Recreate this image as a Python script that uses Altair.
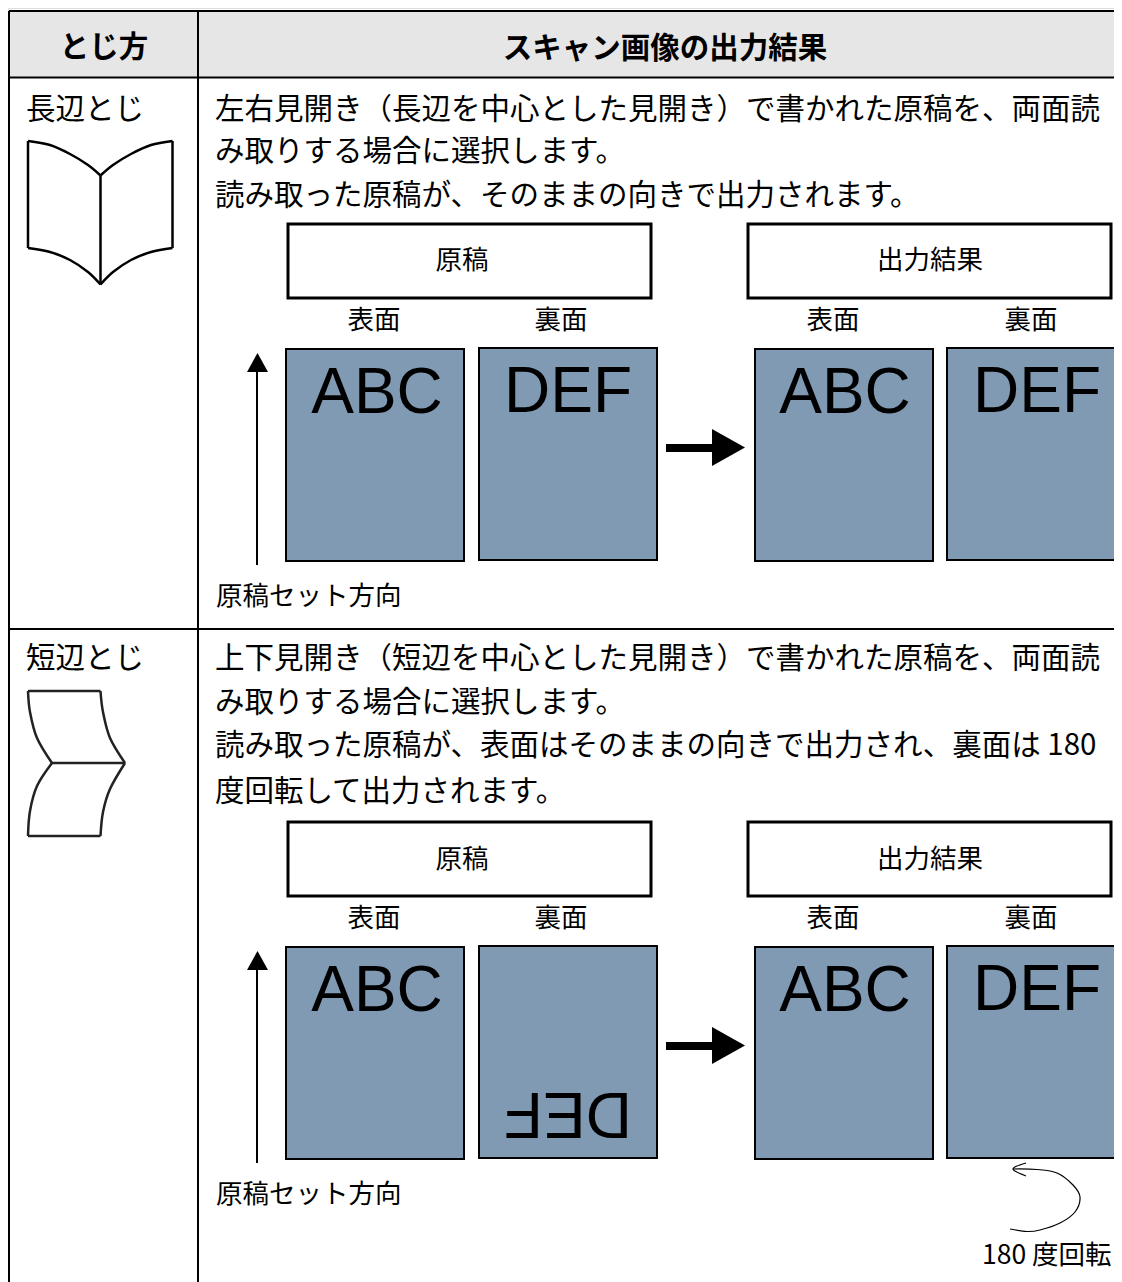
import altair as alt
import pandas as pd

JP = "Noto Sans CJK JP"
LAT = "Liberation Sans"
XD = [8, 1114]
YD = [8, 1282]

# table frame
hdr = [[9, 1122, 11, 77.5]]
rules_x1 = [9, 9, 9, 9, 198]
rules_x2 = [1122, 1122, 1122, 9, 198]
rules_y1 = [11, 77.5, 629, 11, 11]
rules_y2 = [11, 77.5, 629, 1282, 1282]

# white label boxes
box_x1 = [288, 748, 288, 748]
box_x2 = [651, 1111, 651, 1111]
box_y1 = [224, 224, 822, 822]
box_y2 = [298, 298, 896, 896]

# blue pages
pg_x1 = [286, 479, 755, 947, 286, 479, 755, 947]
pg_x2 = [464, 657, 933, 1130, 464, 657, 933, 1130]
pg_y1 = [349, 348, 349, 348, 947, 946, 947, 946]
pg_y2 = [561, 560, 561, 560, 1159, 1158, 1159, 1158]

# thin arrows
shaft_x = [257, 257]
shaft_y1 = [372, 970]
shaft_y2 = [565, 1163]
tri_up = [
    [(247, 372, 372), (257.5, 353, 372), (268, 372, 372)],
    [(247, 970, 970), (257.5, 951, 970), (268, 970, 970)],
]
# thick arrows
thick_x1 = [666, 666]
thick_x2 = [713, 713]
thick_y1 = [448, 1046]
tri_right = [
    [(712, 429, 466), (745, 447.5, 447.5)],
    [(712, 1027, 1064), (745, 1045.5, 1045.5)],
]

# drawn books, one list of points per stroke
book_long = [
    [(28, 141), (28, 248)],
    [(172.5, 141), (172.5, 248)],
    [(100.5, 175.5), (100.5, 284.5)],
    [(28, 141), (50, 145), (70, 154), (88, 165), (100.5, 175.5)],
    [(100.5, 175.5), (113, 165), (131, 154), (151, 145), (172.5, 141)],
    [(28, 248), (50, 252), (70, 260), (88, 272), (100.5, 284.5)],
    [(100.5, 284.5), (113, 272), (131, 260), (151, 252), (172.5, 248)],
]
book_short = [
    [(28, 691), (100.5, 691)],
    [(52, 763), (125, 763)],
    [(28, 836), (100.5, 836)],
    [(28, 691), (30, 712), (37, 738), (52, 763)],
    [(100.5, 691), (103, 712), (110, 738), (125, 763)],
    [(52, 763), (37, 786), (30, 811), (28, 836)],
    [(125, 763), (110, 789), (103, 812), (100.5, 836)],
]
# rotation curve
curve = [
    [(1013, 1169), (1037, 1169.5), (1057, 1173), (1073, 1185), (1080, 1197),
     (1075, 1212), (1060, 1223), (1040, 1230), (1027, 1231.5), (1010, 1229)],
    [(1026, 1163), (1013, 1169), (1026, 1176)],
]

# texts
head_t = ["とじ方", "スキャン画像の出力結果"]
head_x = [104, 665]
head_y = [48, 49]

body_t = [
    "長辺とじ",
    "左右見開き（長辺を中心とした見開き）で書かれた原稿を、両面読",
    "み取りする場合に選択します。",
    "読み取った原稿が、そのままの向きで出力されます。",
    "短辺とじ",
    "上下見開き（短辺を中心とした見開き）で書かれた原稿を、両面読",
    "み取りする場合に選択します。",
    "読み取った原稿が、表面はそのままの向きで出力され、裏面は 180",
    "度回転して出力されます。",
]
body_x = [26, 215, 215, 215, 26, 215, 215, 215, 215]
body_y = [110, 110, 152, 196, 659, 659, 703, 746, 792]

lab_t = ["原稿", "出力結果", "表面", "裏面", "表面", "裏面",
         "原稿", "出力結果", "表面", "裏面", "表面", "裏面"]
lab_x = [462, 930, 374, 561, 833, 1031, 462, 930, 374, 561, 833, 1031]
lab_y = [261, 261, 321, 321, 321, 321, 859.5, 859.5, 919, 919, 919, 919]

side_t = ["原稿セット方向", "原稿セット方向", "180 度回転"]
side_x = [216, 216, 982]
side_y = [597, 1195, 1256]

abc_t = ["ABC", "DEF", "ABC", "DEF", "ABC", "ABC", "DEF"]
abc_x = [377, 568, 845, 1037, 377, 845, 1037]
abc_y = [413, 412, 413, 412, 1011, 1011, 1010]
flip_t = ["DEF"]
flip_x = [568]
flip_y = [1092.5]

X = alt.X("x:Q", scale=alt.Scale(domain=XD, nice=False, zero=False), axis=None)
Y = alt.Y("y:Q", scale=alt.Scale(domain=YD, nice=False, zero=False, reverse=True), axis=None)


def rects(x1, x2, y1, y2, **kw):
    d = pd.DataFrame({"x": x1, "x2": x2, "y": y1, "y2": y2})
    return alt.Chart(d).mark_rect(clip=True, **kw).encode(x=X, x2="x2:Q", y=Y, y2="y2:Q")


def rules(x1, x2, y1, y2, **kw):
    d = pd.DataFrame({"x": x1, "x2": x2, "y": y1, "y2": y2})
    return alt.Chart(d).mark_rule(clip=True, **kw).encode(x=X, x2="x2:Q", y=Y, y2="y2:Q")


def strokes(groups, **kw):
    rows = []
    for g, pts in enumerate(groups):
        for o, (x, y) in enumerate(pts):
            rows.append({"x": x, "y": y, "g": g, "o": o})
    return alt.Chart(pd.DataFrame(rows)).mark_line(**kw).encode(
        x=X, y=Y, detail="g:N", order="o:Q")


def tris(groups):
    rows = []
    for g, pts in enumerate(groups):
        for x, y, y2 in pts:
            rows.append({"x": x, "y": y, "y2": y2, "g": g})
    return alt.Chart(pd.DataFrame(rows)).mark_area(color="#000000", orient="vertical", opacity=1).encode(
        x=X, y=Y, y2="y2:Q", detail="g:N")


def texts(t, x, y, **kw):
    d = pd.DataFrame({"t": t, "x": x, "y": y})
    return alt.Chart(d).mark_text(color="#000000", **kw).encode(x=X, y=Y, text="t:N")


layers = [
    rects([hdr[0][0]], [hdr[0][1]], [hdr[0][2]], [hdr[0][3]], color="#e6e6e6"),
    rules(rules_x1, rules_x2, rules_y1, rules_y2, color="#000000", strokeWidth=2),
    rects(box_x1, box_x2, box_y1, box_y2, color="#ffffff", stroke="#000000", strokeWidth=3),
    rects(pg_x1, pg_x2, pg_y1, pg_y2, color="#809ab4", stroke="#000000", strokeWidth=2),
    rules(shaft_x, shaft_x, shaft_y1, shaft_y2, color="#000000", strokeWidth=2),
    tris(tri_up),
    rules(thick_x1, thick_x2, thick_y1, thick_y1, color="#000000", strokeWidth=8),
    tris(tri_right),
    strokes(book_long, color="#000000", strokeWidth=2.5, interpolate="cardinal"),
    strokes(book_short, color="#222222", strokeWidth=2.5, interpolate="cardinal"),
    strokes(curve, color="#000000", strokeWidth=1.2, interpolate="cardinal"),
    texts(head_t, head_x, head_y, font=JP, fontSize=29.5, fontWeight="bold", align="center", baseline="middle"),
    texts(body_t, body_x, body_y, font=JP, fontSize=29.5, align="left", baseline="middle"),
    texts(lab_t, lab_x, lab_y, font=JP, fontSize=26.5, align="center", baseline="middle"),
    texts(side_t, side_x, side_y, font=JP, fontSize=26.5, align="left", baseline="middle"),
    texts(abc_t, abc_x, abc_y, font=LAT, fontSize=64, align="center", baseline="alphabetic"),
    texts(flip_t, flip_x, flip_y, font=LAT, fontSize=64, align="center", baseline="alphabetic", angle=180),
]

chart = alt.layer(*layers).properties(
    width=XD[1] - XD[0], height=YD[1] - YD[0], padding=0
).configure_view(stroke=None).configure(background="#ffffff")

chart.save("out.html", embed_options={"renderer": "svg", "actions": False})
